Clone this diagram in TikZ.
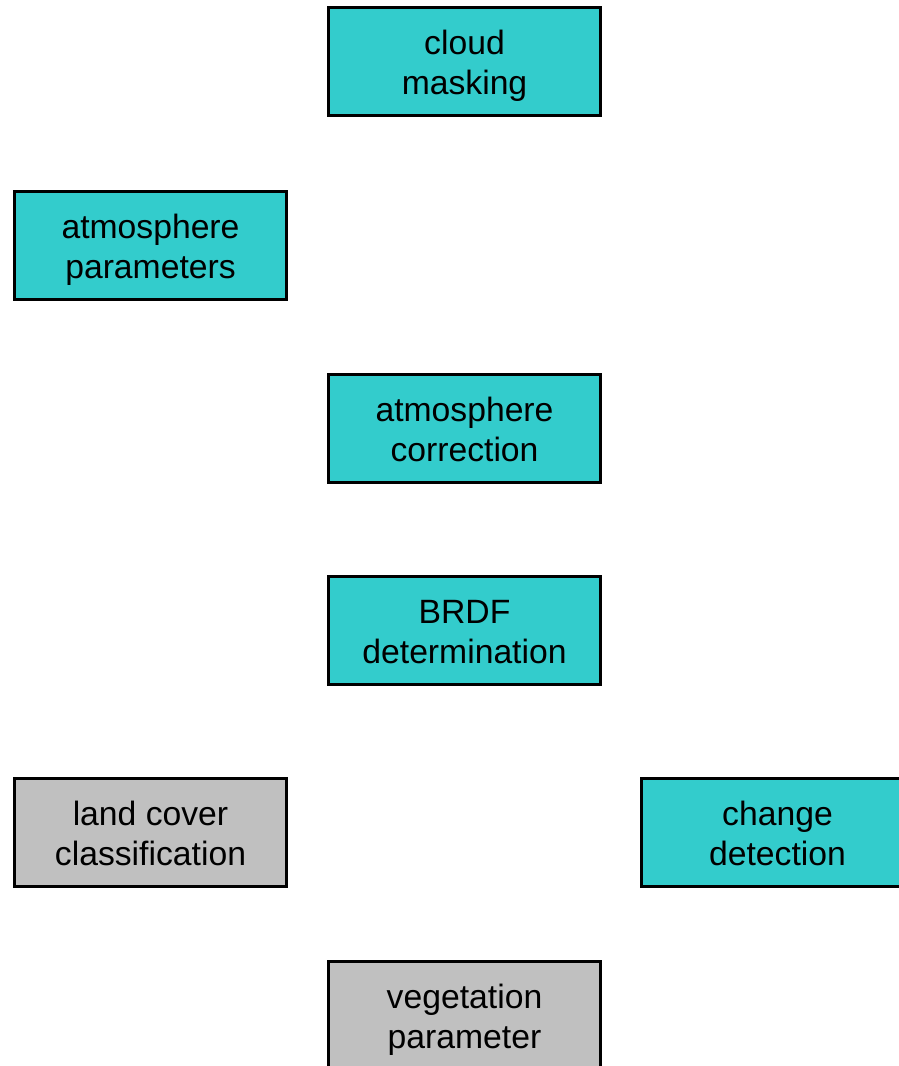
\documentclass[tikz,border=0pt]{standalone}
\usepackage{fontspec}
\setmainfont{Liberation Sans}
\definecolor{boxcyan}{RGB}{51,204,204}
\definecolor{boxgray}{RGB}{192,192,192}
\newcommand\boxtext[1]{\raisebox{0pt}[\dimexpr\height+10pt\relax][\depth]{\begin{tabular}{@{}c@{}}#1\end{tabular}}}
\tikzset{
  procbox/.style={draw=black, line width=3pt, fill=boxcyan, minimum width=272pt, minimum height=108pt,
    inner sep=0pt, font=\fontsize{33.7}{40}\selectfont},
  graybox/.style={procbox, fill=boxgray},
  hidden link/.style={draw=white, line width=1pt}
}
\begin{document}
\begin{tikzpicture}[x=1pt,y=-1pt]
\useasboundingbox (0,0) rectangle (899,1066);
\clip (0,0) rectangle (899,1066);
\fill[white] (0,0) rectangle (899,1066);
\node[procbox] (cloud) at (464.5,61.5) {\boxtext{cloud\\masking}};
\node[procbox] (atmpar) at (150.5,245) {\boxtext{atmosphere\\parameters}};
\node[procbox] (atmcor) at (464.5,428.5) {\boxtext{atmosphere\\correction}};
\node[procbox] (brdf) at (464.5,630.5) {\boxtext{BRDF\\determination}};
\node[graybox] (land) at (150.5,832) {\boxtext{land cover\\classification}};
\node[procbox] (change) at (777.5,832) {\boxtext{change\\detection}};
\node[graybox] (veg) at (464.5,1015.5) {\boxtext{vegetation\\parameter}};
\draw[hidden link] (cloud.south) -- (atmcor.north);
\draw[hidden link] (atmcor.south) -- (brdf.north);
\draw[hidden link] (brdf.south) -- (veg.north);
\draw[hidden link] (land.east) -- (change.west);
\end{tikzpicture}
\end{document}
